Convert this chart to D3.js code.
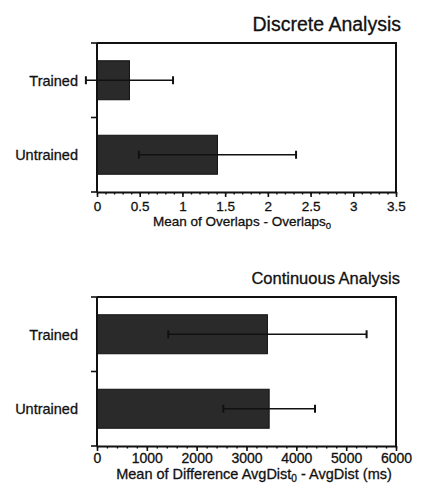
<!DOCTYPE html>
<html><head><meta charset="utf-8">
<script src="https://cdn.jsdelivr.net/npm/d3@7"></script>
<style>
body{margin:0;background:#fff}
svg{display:block}
text{font-family:"Liberation Sans",Arial,Helvetica,sans-serif;fill:#111;stroke:#111;stroke-width:0.3px}
</style>
</head><body>
<svg id="chart" width="433" height="483"></svg>
<script>
// Group names shared by both panels
const groups = ["Trained", "Untrained"];

// Discrete analysis: mean and error (±) of Overlaps - Overlaps0
const discreteMean = [0.38, 1.41];
const discreteErr = [0.51, 0.92];
const discreteTicks = [0, 0.5, 1, 1.5, 2, 2.5, 3, 3.5];
const discreteTickLabels = ["0", "0.5", "1", "1.5", "2", "2.5", "3", "3.5"];

// Continuous analysis: mean and error (±) of AvgDist0 - AvgDist, in ms
const continuousMean = [3420, 3455];
const continuousErr = [1990, 920];
const continuousTicks = [0, 1000, 2000, 3000, 4000, 5000, 6000];
const continuousTickLabels = ["0", "1000", "2000", "3000", "4000", "5000", "6000"];

const svg = d3.select("#chart");

function panel(o) {
  const g = svg.append("g");
  const x = d3.scaleLinear().domain(o.domain).range([97, 396]);
  const y = d3.scalePoint().domain(groups).range([o.top, o.bottom]).padding(0.5);
  const barH = 39;

  // Title, right-aligned above the frame
  g.append("text")
    .attr("x", o.titleX).attr("y", o.titleY)
    .attr("text-anchor", "end")
    .style("font-size", o.titleSize + "px")
    .text(o.title);

  // Bars
  g.selectAll("rect.bar").data(groups).join("rect")
    .attr("class", "bar")
    .attr("x", x(0))
    .attr("y", d => y(d) - barH / 2)
    .attr("width", (d, i) => x(o.mean[i]) - x(0))
    .attr("height", barH)
    .attr("fill", "#2a2a2a")
    .attr("stroke", "#111")
    .attr("stroke-width", 1);

  // Error bars
  const eb = g.selectAll("g.err").data(groups).join("g").attr("class", "err");
  eb.append("line")
    .attr("x1", (d, i) => x(o.mean[i] - o.err[i]))
    .attr("x2", (d, i) => x(o.mean[i] + o.err[i]))
    .attr("y1", d => y(d)).attr("y2", d => y(d))
    .attr("stroke", "#111").attr("stroke-width", 1.6);
  [-1, 1].forEach(s => {
    eb.append("line")
      .attr("x1", (d, i) => x(o.mean[i] + s * o.err[i]))
      .attr("x2", (d, i) => x(o.mean[i] + s * o.err[i]))
      .attr("y1", d => y(d) - 4).attr("y2", d => y(d) + 4)
      .attr("stroke", "#111").attr("stroke-width", 2);
  });

  // Frame: top and right edges
  g.append("path")
    .attr("d", `M${x.range()[0]},${o.top}H${x.range()[1]}V${o.bottom}`)
    .attr("fill", "none").attr("stroke", "#111").attr("stroke-width", 2);

  // Left axis: ticks at the edges and between the groups
  const yTicks = [o.top, (o.top + o.bottom) / 2, o.bottom];
  g.append("line")
    .attr("x1", 97).attr("x2", 97).attr("y1", o.top).attr("y2", o.bottom)
    .attr("stroke", "#111").attr("stroke-width", 2);
  g.selectAll("line.ytick").data(yTicks).join("line")
    .attr("class", "ytick")
    .attr("x1", 91).attr("x2", 97)
    .attr("y1", d => d).attr("y2", d => d)
    .attr("stroke", "#111").attr("stroke-width", 1.6);

  // Group labels
  g.selectAll("text.cat").data(groups).join("text")
    .attr("class", "cat")
    .attr("x", 78).attr("y", d => y(d) + 5.5)
    .attr("text-anchor", "end")
    .style("font-size", "14.5px")
    .text(d => d);

  // Minor ticks on the bottom axis
  const minor = d3.range(o.domain[0], o.domain[1] + o.minorStep / 2, o.minorStep);
  g.append("g")
    .attr("transform", `translate(0,${o.bottom})`)
    .call(d3.axisBottom(x).tickValues(minor).tickSize(2.5).tickFormat(""))
    .call(a => a.select(".domain").remove())
    .call(a => a.selectAll("line").attr("stroke", "#111").attr("stroke-width", 1.4));

  // Major ticks and labels
  const ax = g.append("g")
    .attr("transform", `translate(0,${o.bottom})`)
    .call(d3.axisBottom(x).tickValues(o.ticks).tickSize(5).tickPadding(o.tickPad)
      .tickFormat((d, i) => o.tickLabels[i]).tickSizeOuter(0));
  ax.select(".domain").attr("stroke", "#111").attr("stroke-width", 2);
  ax.selectAll("line").attr("stroke", "#111").attr("stroke-width", 1.6);
  ax.selectAll("text").style("font-size", o.tickSize + "px")
    .style("font-family", "'Liberation Sans',Arial,sans-serif")
    .attr("fill", "#111").attr("stroke", "#111").attr("stroke-width", 0.3);

  // Axis title with subscript
  const t = g.append("text")
    .attr("x", o.labelX).attr("y", o.labelY)
    .attr("text-anchor", "middle")
    .style("font-size", o.labelSize + "px");
  o.label.forEach(part => {
    if (part.sub) {
      t.append("tspan").attr("dy", 3).style("font-size", (o.labelSize * 0.7) + "px").text(part.text);
    } else {
      t.append("tspan").attr("dy", part.after ? -3 : 0).text(part.text);
    }
  });
}

panel({
  title: "Discrete Analysis", titleX: 401, titleY: 31, titleSize: 19.5,
  top: 43, bottom: 192, domain: [0, 3.5],
  mean: discreteMean, err: discreteErr,
  ticks: discreteTicks, tickLabels: discreteTickLabels, minorStep: 0.1,
  tickSize: 13.5, tickPad: 4,
  label: [{text: "Mean of Overlaps - Overlaps"}, {text: "0", sub: true}],
  labelX: 242, labelY: 225.5, labelSize: 13.5
});

panel({
  title: "Continuous Analysis", titleX: 400, titleY: 284, titleSize: 16.5,
  top: 297, bottom: 446, domain: [0, 6000],
  mean: continuousMean, err: continuousErr,
  ticks: continuousTicks, tickLabels: continuousTickLabels, minorStep: 200,
  tickSize: 14, tickPad: 2.5,
  label: [{text: "Mean of Difference AvgDist"}, {text: "0", sub: true}, {text: " - AvgDist (ms)", after: true}],
  labelX: 254, labelY: 478.5, labelSize: 14.5
});
</script>
</body></html>
